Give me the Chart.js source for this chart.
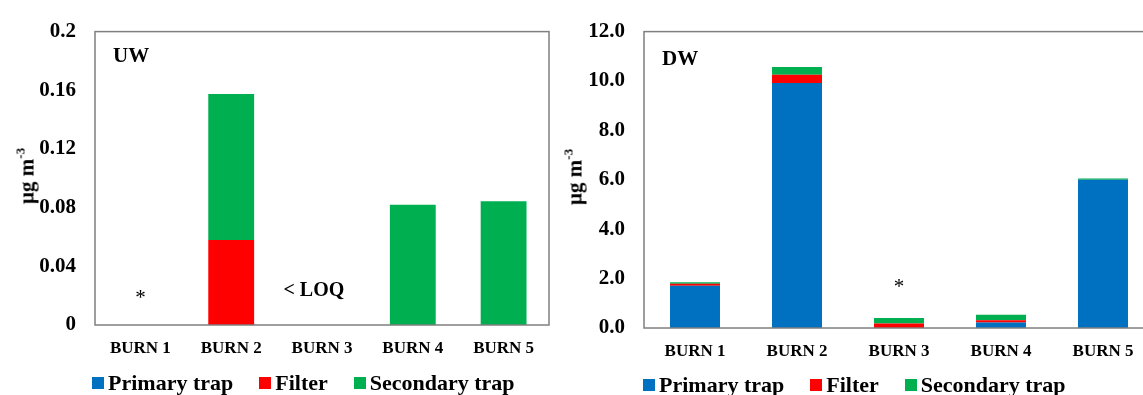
<!DOCTYPE html>
<html><head><meta charset="utf-8">
<script src="https://cdn.jsdelivr.net/npm/chart.js@4/dist/chart.umd.min.js"></script>
<style>
html,body{margin:0;padding:0;background:#fff;overflow:hidden;width:1143px;height:395px;}
body{position:relative;font-family:"Liberation Serif","Times New Roman",serif;font-weight:bold;color:#000;}
canvas{position:absolute;top:0;}
.ytitle{position:absolute;font-size:21px;font-weight:bold;white-space:nowrap;line-height:21px;transform:translate(-50%,-50%) rotate(-90deg);}
.ytitle sup{font-size:13px;line-height:0;position:relative;top:-1px;}
.legend{position:absolute;display:flex;align-items:center;font-size:22px;line-height:26px;white-space:nowrap;}
.legend .item{display:flex;align-items:center;margin-right:26px;}
.legend .sw{width:12px;height:12px;margin-right:4px;display:inline-block;}
</style>
</head><body>
<canvas id="cUW" width="551" height="395" style="left:0px"></canvas>
<canvas id="cDW" width="596" height="395" style="left:560px"></canvas>
<div class="ytitle" style="left:27px;top:176px">µg m<sup>-3</sup></div>
<div class="ytitle" style="left:575px;top:177px">µg m<sup>-3</sup></div>
<div class="legend" id="legUW" style="left:92px;top:370px"></div>
<div class="legend" id="legDW" style="left:643px;top:372px"></div>
<script>
// ---- data ----
const burns = ['BURN 1','BURN 2','BURN 3','BURN 4','BURN 5'];
const seriesNames = ['Primary trap','Filter','Secondary trap'];
const seriesColors = ['#0070C0','#FF0000','#00B050'];

const uwPrimary   = [0, 0, 0, 0, 0];
const uwFilter    = [0, 0.058, 0, 0, 0];
const uwSecondary = [0, 0.0995, 0, 0.082, 0.0844];
const uwTicks = ['0','0.04','0.08','0.12','0.16','0.2'];

const dwPrimary   = [1.71, 9.92, 0, 0.22, 6.00];
const dwFilter    = [0.08, 0.33, 0.18, 0.09, 0];
const dwSecondary = [0.06, 0.32, 0.22, 0.23, 0.05];
const dwTicks = ['0.0','2.0','4.0','6.0','8.0','10.0','12.0'];

const uwNotes = [{x:0, y:0.02, text:'*', bold:false, size:21}, {x:1.91, y:0.023, text:'< LOQ', bold:true, size:20}];
const dwNotes = [{x:2, y:1.76, text:'*', bold:false, size:21}];

// ---- drawing ----
const FAM = '"Liberation Serif","Times New Roman",serif';

const boxPlugin = {
  id:'boxAndNotes',
  afterDatasetsDraw(chart, args, opts){
    const {ctx, chartArea:a, scales} = chart;
    ctx.save();
    ctx.strokeStyle = '#7f7f7f';
    ctx.lineWidth = 1.5;
    ctx.strokeRect(a.left, a.top, a.right - a.left, a.bottom - a.top);
    ctx.fillStyle = '#000';
    ctx.textBaseline = 'middle';
    ctx.textAlign = 'left';
    ctx.font = 'bold 21px ' + FAM;
    ctx.fillText(opts.panel, a.left + 18, a.top + opts.panelDy);
    ctx.textAlign = 'center';
    for (const n of opts.notes) {
      ctx.font = (n.bold ? 'bold ' : '') + n.size + 'px ' + FAM;
      ctx.fillText(n.text, scales.x.getPixelForValue(n.x), scales.y.getPixelForValue(n.y) + (n.bold ? 0 : 3));
    }
    ctx.restore();
  }
};

function makeChart(id, sets, yMax, yStep, ticks, barPct, padTop, padRight, xHeight, yWidth, panel, panelDy, notes){
  return new Chart(document.getElementById(id), {
    type:'bar',
    data:{
      labels:burns,
      datasets: sets.map((d,i)=>({label:seriesNames[i], data:d, backgroundColor:seriesColors[i], borderWidth:0}))
    },
    options:{
      responsive:false, animation:false, devicePixelRatio:1,
      layout:{padding:{top:padTop, right:padRight, left:0, bottom:0}},
      datasets:{bar:{barPercentage:barPct, categoryPercentage:1}},
      plugins:{legend:{display:false}, tooltip:{enabled:false},
        boxAndNotes:{panel:panel, panelDy:panelDy, notes:notes}},
      scales:{
        x:{stacked:true, grid:{display:false, drawTicks:false}, border:{display:false},
           ticks:{color:'#000', font:{family:FAM, size:17, weight:'bold'}, padding:13, maxRotation:0, autoSkip:false},
           afterFit:s=>{s.height = xHeight;}},
        y:{stacked:true, min:0, max:yMax, grid:{display:false, drawTicks:false}, border:{display:false},
           ticks:{stepSize:yStep, color:'#000', font:{family:FAM, size:21, weight:'bold'}, padding:19,
                  callback:(v,i)=>ticks[i]},
           afterFit:s=>{s.width = yWidth;}}
      }
    },
    plugins:[boxPlugin]
  });
}

makeChart('cUW', [uwPrimary, uwFilter, uwSecondary], 0.2, 0.04, uwTicks, 0.505, 24, 2, 70, 95, 'UW', 24.5, uwNotes);
makeChart('cDW', [dwPrimary, dwFilter, dwSecondary], 12, 2, dwTicks, 0.49, 21, 2, 67, 84, 'DW', 28, dwNotes);

function buildLegend(id){
  const el = document.getElementById(id);
  seriesNames.forEach((n,i)=>{
    const it = document.createElement('span'); it.className='item';
    const sw = document.createElement('span'); sw.className='sw'; sw.style.background = seriesColors[i];
    const tx = document.createElement('span'); tx.textContent = n;
    it.appendChild(sw); it.appendChild(tx); el.appendChild(it);
  });
}
buildLegend('legUW'); buildLegend('legDW');
</script>
</body></html>
